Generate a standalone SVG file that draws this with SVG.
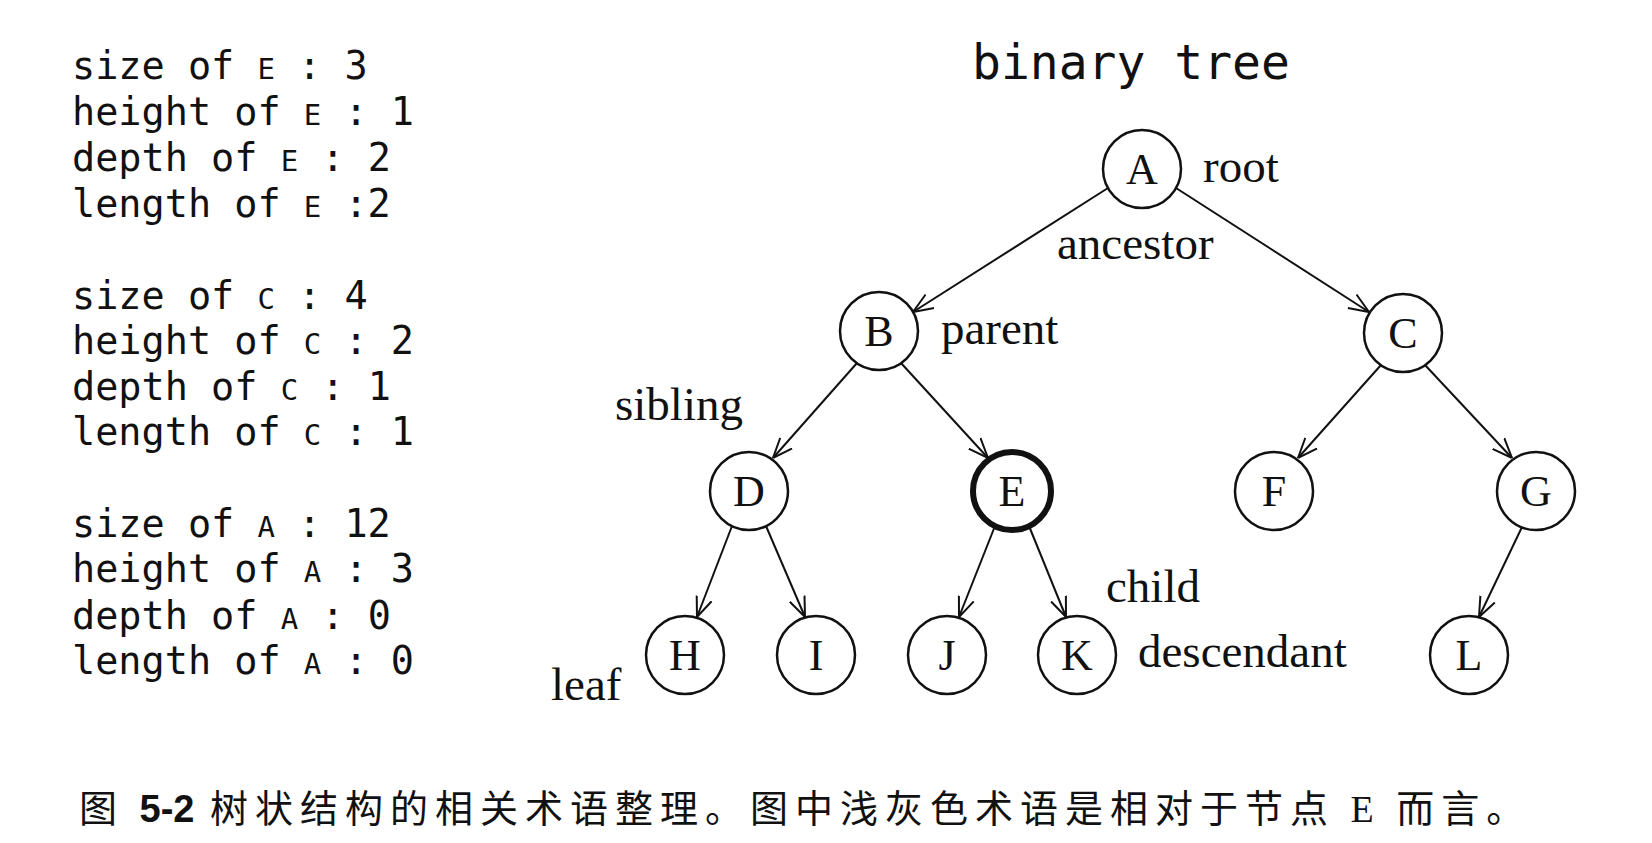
<svg xmlns="http://www.w3.org/2000/svg" width="1652" height="843" viewBox="0 0 1652 843">
<style>
.m{font-family:"DejaVu Sans Mono","Liberation Mono",monospace;font-size:38.5px;fill:#111}
.s{font-size:29px}
.t{font-family:"Liberation Serif","Times New Roman",serif;font-size:47px;fill:#111}
.n circle{fill:#fff;stroke:#111;stroke-width:2.5}
.n text{font-family:"Liberation Serif",serif;font-size:44px;text-anchor:middle;fill:#111}
.e line{stroke:#111;stroke-width:2}
</style>
<defs><marker id="a" viewBox="0 0 20 20" refX="20" refY="10" markerWidth="20" markerHeight="20" markerUnits="userSpaceOnUse" orient="auto"><path d="M0,2 L20,10 L0,18" fill="none" stroke="#111" stroke-width="2"/></marker></defs>
<rect width="1652" height="843" fill="#fff"/>
<g id="stats" class="m">
<text x="72" y="79">size of <tspan class="s">E</tspan> : 3</text>
<text x="72" y="125">height of <tspan class="s">E</tspan> : 1</text>
<text x="72" y="171">depth of <tspan class="s">E</tspan> : 2</text>
<text x="72" y="217">length of <tspan class="s">E</tspan> :2</text>
<text x="72" y="309">size of <tspan class="s">C</tspan> : 4</text>
<text x="72" y="354">height of <tspan class="s">C</tspan> : 2</text>
<text x="72" y="400">depth of <tspan class="s">C</tspan> : 1</text>
<text x="72" y="445">length of <tspan class="s">C</tspan> : 1</text>
<text x="72" y="537">size of <tspan class="s">A</tspan> : 12</text>
<text x="72" y="582">height of <tspan class="s">A</tspan> : 3</text>
<text x="72" y="629">depth of <tspan class="s">A</tspan> : 0</text>
<text x="72" y="674">length of <tspan class="s">A</tspan> : 0</text>
</g>
<text id="title" class="m" x="972" y="79" style="font-size:48px">binary tree</text>
<g id="edges" class="e">
<line x1="1108" y1="188" x2="913" y2="312" marker-end="url(#a)"/>
<line x1="1176" y1="188" x2="1369" y2="312" marker-end="url(#a)"/>
<line x1="857" y1="363" x2="773" y2="458" marker-end="url(#a)"/>
<line x1="901" y1="363" x2="988" y2="458" marker-end="url(#a)"/>
<line x1="1381" y1="365" x2="1298" y2="458" marker-end="url(#a)"/>
<line x1="1425" y1="365" x2="1512" y2="458" marker-end="url(#a)"/>
<line x1="732" y1="526" x2="697" y2="617" marker-end="url(#a)"/>
<line x1="766" y1="526" x2="805" y2="617" marker-end="url(#a)"/>
<line x1="995" y1="526" x2="959" y2="617" marker-end="url(#a)"/>
<line x1="1029" y1="526" x2="1066" y2="617" marker-end="url(#a)"/>
<line x1="1522" y1="527" x2="1479" y2="617" marker-end="url(#a)"/>
</g>
<g id="A" class="n"><circle cx="1142" cy="169" r="39"/><text x="1142" y="184">A</text></g>
<g id="B" class="n"><circle cx="879" cy="331" r="39"/><text x="879" y="346">B</text></g>
<g id="C" class="n"><circle cx="1403" cy="333" r="39"/><text x="1403" y="348">C</text></g>
<g id="D" class="n"><circle cx="749" cy="491" r="39"/><text x="749" y="506">D</text></g>
<g id="E" class="n"><circle cx="1012" cy="491" r="39" style="stroke-width:6"/><text x="1012" y="506">E</text></g>
<g id="F" class="n"><circle cx="1274" cy="491" r="39"/><text x="1274" y="506">F</text></g>
<g id="G" class="n"><circle cx="1536" cy="491" r="39"/><text x="1536" y="506">G</text></g>
<g id="H" class="n"><circle cx="685" cy="655" r="39"/><text x="685" y="670">H</text></g>
<g id="I" class="n"><circle cx="816" cy="655" r="39"/><text x="816" y="670">I</text></g>
<g id="J" class="n"><circle cx="947" cy="655" r="39"/><text x="947" y="670">J</text></g>
<g id="K" class="n"><circle cx="1077" cy="655" r="39"/><text x="1077" y="670">K</text></g>
<g id="L" class="n"><circle cx="1469" cy="655" r="39"/><text x="1469" y="670">L</text></g>
<g id="labels" class="t">
<text x="1203" y="182">root</text>
<text x="1057" y="259">ancestor</text>
<text x="941" y="344">parent</text>
<text x="615" y="420">sibling</text>
<text x="1106" y="602">child</text>
<text x="1138" y="667">descendant</text>
<text x="551" y="700">leaf</text>
</g>
<text id="caption" x="79" y="822" style="font-family:'Noto Sans CJK SC',sans-serif;font-size:38px;letter-spacing:7px;fill:#111">图 <tspan style="font-family:'Liberation Sans',sans-serif;font-weight:bold;letter-spacing:0">5-2</tspan> 树状结构的相关术语整理。图中浅灰色术语是相对于节点 <tspan style="font-family:'Liberation Serif',serif">E</tspan> 而言。</text>
</svg>
